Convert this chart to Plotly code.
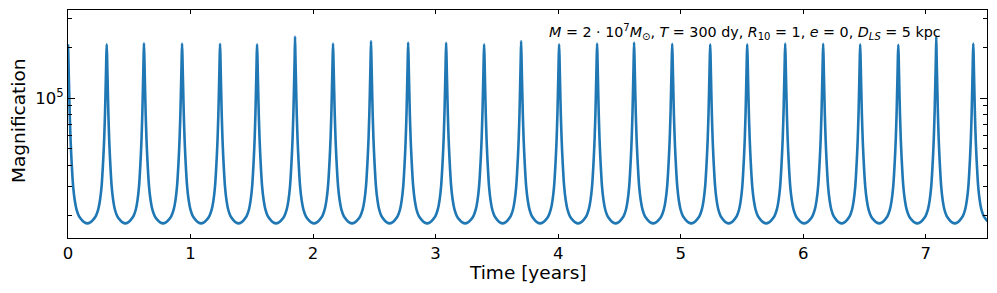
import plotly.graph_objects as go

# Peak times (years) and peak magnifications
peak_times = [0.0, 0.316, 0.620, 0.931, 1.241, 1.543, 1.853, 2.163, 2.473, 2.776,
              3.086, 3.396, 3.698, 4.008, 4.318, 4.620, 4.931, 5.241, 5.543, 5.853,
              6.163, 6.465, 6.776, 7.086, 7.388]
peak_mags = [2.10e5, 2.10e5, 2.13e5, 2.12e5, 2.11e5, 2.10e5, 2.33e5, 2.12e5, 2.19e5, 2.15e5,
             2.14e5, 2.10e5, 2.19e5, 2.10e5, 2.12e5, 2.15e5, 2.11e5, 2.10e5, 2.10e5, 2.12e5,
             2.11e5, 2.10e5, 2.08e5, 2.33e5, 2.12e5]

# Shape of one half-cycle: phase from peak (fraction of the
# peak-to-peak gap) and magnification there
profile_phase = [0.009, 0.0175, 0.031, 0.044, 0.066, 0.088, 0.132, 0.175, 0.221,
                 0.282, 0.354, 0.425, 0.5]
profile_mags = [1.81e5, 1.47e5, 1.08e5, 8.15e4, 5.7e4, 4.4e4, 3.0e4, 2.46e4, 2.17e4,
                1.99e4, 1.89e4, 1.825e4, 1.80e4]

x_ticks = [0, 1, 2, 3, 4, 5, 6, 7]
y_major = [1e5]
y_major_text = ["10<sup>5</sup>"]
y_minor = [2e4, 3e4, 4e4, 5e4, 6e4, 7e4, 8e4, 9e4, 2e5, 3e5]

t, m = [], []
n = len(peak_times)
for i in range(n):
    tp, mp = peak_times[i], peak_mags[i]
    gl = tp - peak_times[i - 1] if i > 0 else peak_times[1] - peak_times[0]
    gr = peak_times[i + 1] - tp if i < n - 1 else gl
    if i > 0:
        for ph, mg in reversed(list(zip(profile_phase[:-1], profile_mags[:-1]))):
            t.append(tp - ph * gl)
            m.append(mg)
    t.append(tp)
    m.append(mp)
    for ph, mg in zip(profile_phase, profile_mags):
        t.append(tp + ph * gr)
        m.append(mg)

fig = go.Figure()
fig.add_trace(go.Scatter(x=t, y=m, mode="lines",
                         line=dict(color="#1f77b4", width=2.6, shape="spline",
                                   smoothing=0.6)))

font = "DejaVu Sans, sans-serif"
fig.update_layout(
    width=989, height=285,
    margin=dict(l=60, r=10, t=2, b=55),
    paper_bgcolor="white", plot_bgcolor="white",
    showlegend=False,
    font=dict(family=font, size=16, color="black"),
    xaxis=dict(
        range=[0, 7.5], tickvals=x_ticks, ticks="inside", ticklen=4,
        tickwidth=1, tickcolor="black", automargin=False,
        showline=True, linecolor="black", linewidth=1.2, mirror="ticks",
        showgrid=False, zeroline=False,
        tickfont=dict(size=16.5),
    ),
    yaxis=dict(
        type="log", range=[4.168, 5.526], automargin=False,
        tickvals=y_major, ticktext=y_major_text, ticks="inside", ticklen=7,
        tickwidth=1, tickcolor="black",
        minor=dict(tickvals=y_minor, ticks="inside", ticklen=4, tickcolor="black",
                   showgrid=False),
        showline=True, linecolor="black", linewidth=1.2, mirror="ticks",
        showgrid=False, zeroline=False,
        tickfont=dict(size=16.5),
    ),
)

fig.add_annotation(
    xref="paper", yref="paper", x=0.5, y=0, yshift=-34, xanchor="center", yanchor="middle",
    showarrow=False, font=dict(family=font, size=18.5, color="black"),
    text="Time [years]",
)
fig.add_annotation(
    xref="paper", yref="paper", x=0, xshift=-50, y=0.5, yshift=3, xanchor="center",
    yanchor="middle", textangle=-90,
    showarrow=False, font=dict(family=font, size=18.5, color="black"),
    text="Magnification",
)
fig.add_annotation(
    xref="paper", yref="paper", x=0.521, y=0.904, xanchor="left", yanchor="middle",
    showarrow=False, font=dict(family=font, size=14.3, color="black"),
    text=("<i>M</i> = 2 · 10<sup>7</sup><i>M</i><sub>⊙</sub>, <i>T</i> = 300 dy, "
          "<i>R</i><sub>10</sub> = 1, <i>e</i> = 0, <i>D</i><sub><i>LS</i></sub> = 5 kpc"),
)

fig.write_html("out.html")
